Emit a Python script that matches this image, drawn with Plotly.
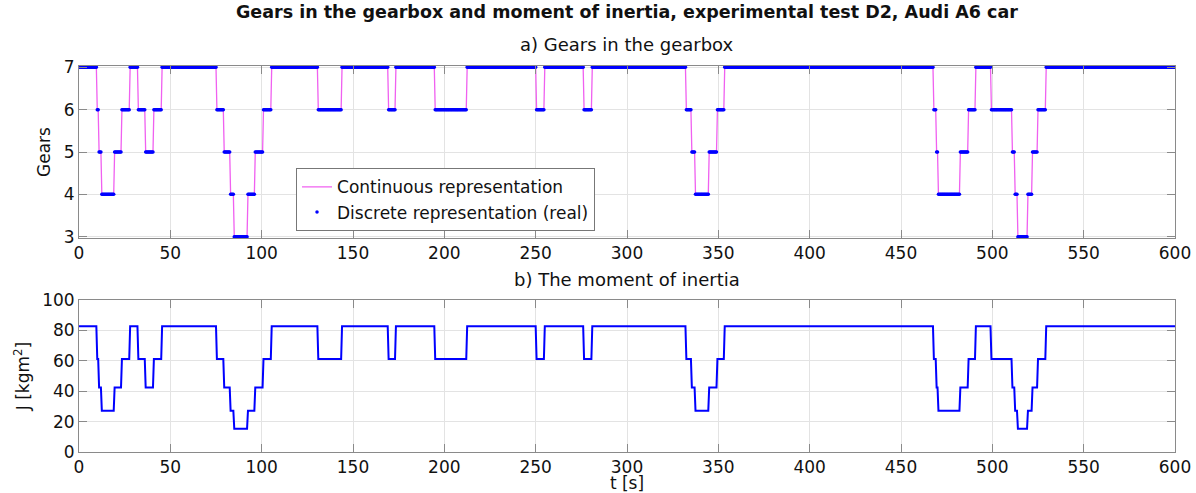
import numpy as np
import plotly.graph_objects as go

# Gear change times [s] (start of each constant-gear segment) and gear engaged
change_t = [0, 9.7, 11.0, 12.3, 19.3, 23.5, 27.7, 32.1, 36.5, 40.9, 45.3, 75.4, 79.4, 82.6,
            84.8, 92.1, 96.5, 100.9, 105.1, 131.0, 143.6, 169.3, 173.5, 194.9, 212.4, 250.5,
            254.7, 276.4, 281.0, 332.2, 335.1, 337.5, 345.0, 349.4, 353.2, 468.0, 469.2,
            470.5, 482.2, 486.6, 490.8, 499.2, 510.8, 512.3, 513.6, 519.4, 521.8, 524.9, 529.1]
gears = [7, 6, 5, 4, 5, 6, 7, 6, 5, 6, 7, 6, 5,
         4, 3, 4, 5, 6, 7, 6, 7, 6, 7, 6, 7, 6,
         7, 6, 7, 6, 5, 4, 5, 6, 7, 6, 5,
         4, 5, 6, 7, 6, 5, 4, 3, 4, 5, 6, 7]
t_end = 600
dt = 0.5

# Moment of inertia for each gear [kgm^2]
gear_levels = [3, 4, 5, 6, 7]
inertia = [15.3, 27.2, 42.5, 61.2, 82.8]

x_ticks = [0, 50, 100, 150, 200, 250, 300, 350, 400, 450, 500, 550, 600]
gear_ticks = [3, 4, 5, 6, 7]
j_ticks = [0, 20, 40, 60, 80, 100]

# discrete samples of the recorded gear signal
t = np.arange(0, t_end + dt / 2, dt)
idx = np.searchsorted(np.array(change_t), t, side="right") - 1
g = np.array(gears)[idx]
jmap = dict(zip(gear_levels, inertia))
J = np.array([jmap[v] for v in g])

FONT = "DejaVu Sans, Verdana, sans-serif"
GRID = "#e3e3e3"
AX = "#8a8a8a"

fig = go.Figure()
fig.add_trace(go.Scatter(x=t, y=g, mode="lines", name="Continuous representation",
                         line=dict(color="#f060f0", width=1.3), xaxis="x", yaxis="y"))
fig.add_trace(go.Scatter(x=t, y=g, mode="markers", name="Discrete representation (real)",
                         marker=dict(color="#0000ff", size=3.5), xaxis="x", yaxis="y"))
fig.add_trace(go.Scatter(x=t, y=J, mode="lines", showlegend=False,
                         line=dict(color="#0000ff", width=2), xaxis="x2", yaxis="y2"))

axis_common = dict(showgrid=True, gridcolor=GRID, gridwidth=1, zeroline=False,
                   showline=True, linecolor=AX, linewidth=1, mirror="ticks",
                   ticks="inside", ticklen=8, tickcolor=AX, tickwidth=1, automargin=False,
                   tickfont=dict(family=FONT, size=17, color="#111"))

fig.update_layout(
    width=1196, height=493,
    margin=dict(l=79, r=21, t=66, b=41, autoexpand=False),
    paper_bgcolor="white", plot_bgcolor="white",
    font=dict(family=FONT, color="#111"),
    xaxis=dict(domain=[0, 1], anchor="y", range=[0, 600], tickvals=x_ticks, **axis_common),
    yaxis=dict(domain=[0.5544, 1], anchor="x", range=[2.97, 7.03], tickvals=gear_ticks,
               title=dict(text="Gears", font=dict(family=FONT, size=17), standoff=8),
               **axis_common),
    xaxis2=dict(domain=[0, 1], anchor="y2", range=[0, 600], tickvals=x_ticks,
                title=dict(text="t [s]", font=dict(family=FONT, size=17), standoff=6),
                **axis_common),
    yaxis2=dict(domain=[0, 0.3938], anchor="x2", range=[0, 100], tickvals=j_ticks,
                title=dict(text="J [kgm<sup>2</sup>]", font=dict(family=FONT, size=17), standoff=8),
                **axis_common),
    legend=dict(x=0.198, y=0.735, xanchor="left", yanchor="top",
                bgcolor="white", bordercolor="#777", borderwidth=1,
                font=dict(family=FONT, size=17, color="#111"), tracegroupgap=0),
    annotations=[
        dict(text="<b>Gears in the gearbox and moment of inertia, experimental test D2, Audi A6 car</b>",
             xref="paper", yref="paper", x=0.5, y=1, yshift=54, showarrow=False,
             font=dict(family=FONT, size=17.5, color="#111"), xanchor="center", yanchor="middle"),
        dict(text="a) Gears in the gearbox", xref="paper", yref="paper", x=0.5, y=1, yshift=22,
             showarrow=False, font=dict(family=FONT, size=18, color="#111"),
             xanchor="center", yanchor="middle"),
        dict(text="b) The moment of inertia", xref="paper", yref="paper", x=0.5, y=0.3938, yshift=20,
             showarrow=False, font=dict(family=FONT, size=18, color="#111"),
             xanchor="center", yanchor="middle"),
    ],
)

# remove the default page margin so the figure fills the window exactly
fig.write_html("out.html", config={"displayModeBar": False},
               post_script="document.body.style.margin='0px';document.body.style.overflow='hidden';")
